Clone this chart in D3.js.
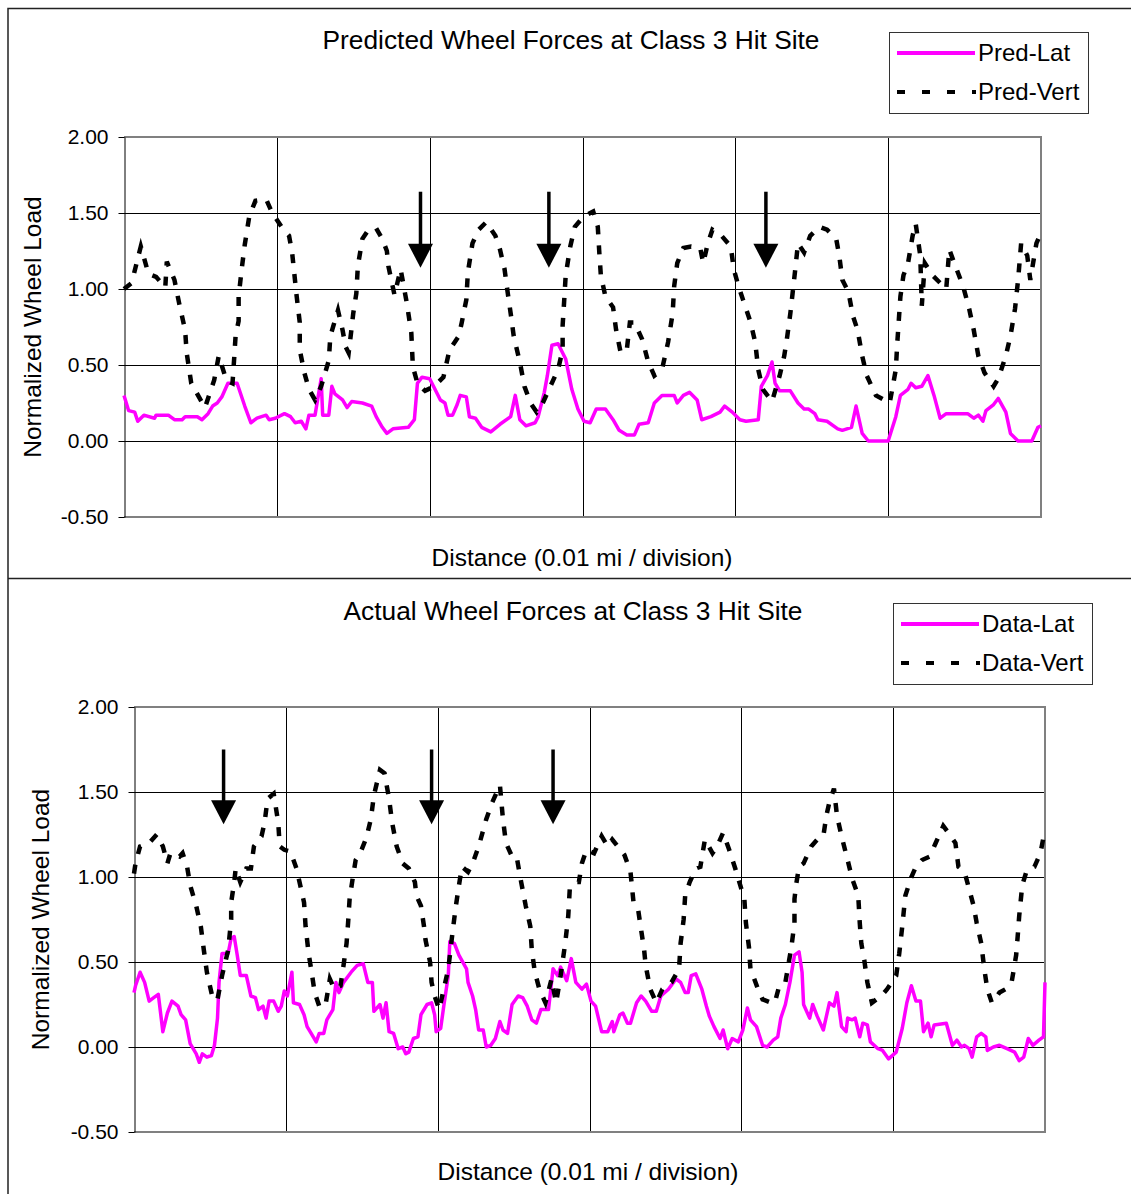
<!DOCTYPE html>
<html>
<head>
<meta charset="utf-8">
<script src="https://cdn.jsdelivr.net/npm/d3@7"></script>
<style>
  body { margin: 0; background: #fff; }
  text { font-family: "Liberation Sans", Arial, sans-serif; fill: #000; }
</style>
</head>
<body>
<div id="chart"></div>
<script>
// y axis ticks and x divisions (0.01 mi each)
var yTicks = [-0.5, 0, 0.5, 1, 1.5, 2];
var divisions = [0, 1, 2, 3, 4, 5, 6];

// [distance in divisions, normalized wheel load]
var predLat = [[0,0.30],[0.03,0.20],[0.07,0.19],[0.09,0.13],[0.13,0.17],[0.20,0.15],[0.21,0.17],[0.29,0.17],[0.33,0.14],[0.38,0.14],[0.40,0.16],[0.48,0.16],[0.51,0.14],[0.55,0.18],[0.58,0.23],[0.61,0.25],[0.64,0.29],[0.68,0.38],[0.70,0.38],[0.74,0.38],[0.79,0.23],[0.83,0.12],[0.87,0.15],[0.93,0.17],[0.95,0.14],[0.99,0.15],[1.05,0.18],[1.09,0.16],[1.12,0.12],[1.16,0.13],[1.19,0.08],[1.21,0.17],[1.25,0.17],[1.29,0.41],[1.30,0.17],[1.34,0.17],[1.36,0.36],[1.38,0.31],[1.43,0.27],[1.46,0.22],[1.49,0.26],[1.56,0.25],[1.62,0.23],[1.65,0.16],[1.69,0.09],[1.72,0.05],[1.76,0.08],[1.86,0.09],[1.90,0.14],[1.92,0.38],[1.95,0.42],[2.00,0.41],[2.03,0.35],[2.07,0.27],[2.10,0.25],[2.12,0.17],[2.15,0.17],[2.18,0.24],[2.20,0.30],[2.24,0.29],[2.26,0.16],[2.30,0.15],[2.34,0.09],[2.40,0.06],[2.46,0.11],[2.53,0.16],[2.56,0.30],[2.59,0.14],[2.63,0.10],[2.69,0.12],[2.71,0.16],[2.75,0.32],[2.77,0.43],[2.80,0.63],[2.84,0.64],[2.89,0.54],[2.93,0.34],[2.97,0.21],[3.01,0.13],[3.05,0.12],[3.09,0.21],[3.15,0.21],[3.20,0.14],[3.24,0.07],[3.29,0.04],[3.34,0.04],[3.37,0.11],[3.43,0.12],[3.47,0.25],[3.52,0.30],[3.56,0.30],[3.60,0.30],[3.62,0.25],[3.66,0.30],[3.70,0.32],[3.75,0.27],[3.78,0.14],[3.84,0.16],[3.90,0.19],[3.93,0.23],[3.98,0.19],[4.03,0.14],[4.07,0.13],[4.15,0.14],[4.17,0.36],[4.21,0.43],[4.24,0.52],[4.26,0.38],[4.29,0.33],[4.36,0.33],[4.41,0.25],[4.45,0.21],[4.48,0.21],[4.52,0.18],[4.54,0.14],[4.60,0.13],[4.67,0.08],[4.70,0.07],[4.76,0.09],[4.79,0.23],[4.83,0.05],[4.87,0.00],[5.00,0.00],[5.05,0.16],[5.08,0.30],[5.13,0.34],[5.15,0.38],[5.18,0.35],[5.22,0.36],[5.26,0.43],[5.30,0.30],[5.34,0.15],[5.38,0.18],[5.52,0.18],[5.56,0.15],[5.59,0.17],[5.62,0.13],[5.64,0.20],[5.69,0.24],[5.72,0.28],[5.77,0.19],[5.80,0.05],[5.85,0.00],[5.94,0.00],[5.98,0.09],[6.00,0.10]];

var predVert = [[0,1.00],[0.05,1.04],[0.11,1.28],[0.16,1.10],[0.21,1.08],[0.27,1.01],[0.28,1.18],[0.33,1.06],[0.36,0.91],[0.40,0.73],[0.41,0.58],[0.44,0.38],[0.49,0.29],[0.53,0.22],[0.59,0.40],[0.62,0.56],[0.67,0.40],[0.71,0.38],[0.72,0.53],[0.73,0.69],[0.75,0.79],[0.75,0.95],[0.77,1.13],[0.79,1.29],[0.82,1.48],[0.86,1.58],[0.93,1.59],[0.97,1.50],[1.03,1.41],[1.08,1.35],[1.10,1.24],[1.13,0.95],[1.15,0.78],[1.15,0.60],[1.18,0.45],[1.21,0.34],[1.25,0.27],[1.29,0.36],[1.34,0.53],[1.35,0.69],[1.40,0.86],[1.43,0.73],[1.45,0.62],[1.47,0.58],[1.49,0.75],[1.50,0.84],[1.52,0.97],[1.53,1.15],[1.56,1.33],[1.60,1.39],[1.65,1.40],[1.69,1.33],[1.72,1.25],[1.73,1.15],[1.77,0.96],[1.81,1.13],[1.85,0.91],[1.88,0.71],[1.89,0.49],[1.92,0.38],[1.97,0.33],[2.03,0.36],[2.09,0.42],[2.13,0.60],[2.19,0.69],[2.21,0.78],[2.24,0.93],[2.25,1.11],[2.28,1.30],[2.32,1.39],[2.37,1.44],[2.43,1.35],[2.46,1.26],[2.49,1.13],[2.51,0.98],[2.53,0.84],[2.55,0.69],[2.59,0.52],[2.62,0.36],[2.66,0.25],[2.70,0.19],[2.74,0.25],[2.79,0.36],[2.84,0.47],[2.87,0.60],[2.87,0.76],[2.88,0.92],[2.89,1.09],[2.92,1.28],[2.95,1.41],[3.01,1.48],[3.07,1.51],[3.10,1.41],[3.11,1.24],[3.12,1.09],[3.15,0.95],[3.20,0.88],[3.22,0.73],[3.25,0.58],[3.29,0.60],[3.31,0.78],[3.34,0.78],[3.39,0.67],[3.43,0.52],[3.47,0.43],[3.52,0.47],[3.56,0.65],[3.59,0.84],[3.60,1.02],[3.62,1.17],[3.66,1.27],[3.71,1.28],[3.77,1.27],[3.79,1.17],[3.82,1.30],[3.85,1.39],[3.91,1.35],[3.97,1.28],[3.99,1.13],[4.02,1.02],[4.05,0.93],[4.10,0.78],[4.13,0.65],[4.15,0.47],[4.18,0.34],[4.24,0.26],[4.29,0.43],[4.32,0.56],[4.34,0.69],[4.36,0.84],[4.37,0.93],[4.39,1.11],[4.41,1.30],[4.45,1.24],[4.49,1.35],[4.55,1.41],[4.60,1.39],[4.66,1.33],[4.68,1.22],[4.70,1.06],[4.74,0.98],[4.77,0.82],[4.80,0.73],[4.83,0.56],[4.86,0.43],[4.92,0.30],[5.01,0.25],[5.05,0.47],[5.06,0.65],[5.07,0.80],[5.08,0.95],[5.10,1.09],[5.13,1.17],[5.16,1.35],[5.18,1.43],[5.21,1.22],[5.22,0.89],[5.24,1.17],[5.29,1.09],[5.38,1.00],[5.40,1.26],[5.44,1.15],[5.49,1.02],[5.53,0.87],[5.56,0.73],[5.59,0.56],[5.63,0.45],[5.69,0.36],[5.72,0.41],[5.77,0.56],[5.80,0.69],[5.83,0.87],[5.85,1.06],[5.87,1.30],[5.91,1.22],[5.93,1.06],[5.97,1.30],[6.00,1.37]];

var dataLat = [[0,0.32],[0.01,0.36],[0.04,0.44],[0.07,0.38],[0.10,0.27],[0.13,0.29],[0.16,0.31],[0.19,0.09],[0.22,0.20],[0.25,0.27],[0.29,0.24],[0.31,0.19],[0.34,0.16],[0.37,0.02],[0.41,-0.04],[0.43,-0.09],[0.45,-0.04],[0.48,-0.06],[0.51,-0.05],[0.53,0.01],[0.55,0.17],[0.56,0.38],[0.58,0.55],[0.62,0.55],[0.64,0.64],[0.66,0.65],[0.68,0.54],[0.70,0.42],[0.74,0.42],[0.77,0.30],[0.80,0.29],[0.82,0.22],[0.85,0.24],[0.87,0.17],[0.89,0.27],[0.92,0.27],[0.95,0.21],[0.97,0.24],[0.99,0.33],[1.01,0.30],[1.04,0.44],[1.05,0.26],[1.09,0.25],[1.12,0.19],[1.14,0.12],[1.16,0.09],[1.20,0.03],[1.22,0.08],[1.25,0.08],[1.27,0.16],[1.31,0.22],[1.33,0.38],[1.35,0.32],[1.38,0.38],[1.43,0.44],[1.47,0.48],[1.51,0.49],[1.54,0.38],[1.57,0.38],[1.58,0.21],[1.62,0.25],[1.64,0.17],[1.66,0.26],[1.68,0.09],[1.71,0.08],[1.74,-0.01],[1.77,0.00],[1.79,-0.04],[1.81,-0.03],[1.84,0.05],[1.87,0.06],[1.89,0.19],[1.93,0.25],[1.96,0.26],[1.98,0.19],[1.99,0.09],[2.02,0.11],[2.04,0.24],[2.07,0.42],[2.08,0.62],[2.11,0.61],[2.14,0.54],[2.19,0.46],[2.20,0.38],[2.23,0.30],[2.25,0.22],[2.27,0.10],[2.30,0.10],[2.32,0.00],[2.35,0.01],[2.38,0.05],[2.41,0.15],[2.43,0.10],[2.46,0.08],[2.49,0.25],[2.53,0.30],[2.56,0.29],[2.59,0.24],[2.62,0.16],[2.65,0.14],[2.68,0.22],[2.73,0.22],[2.76,0.46],[2.79,0.42],[2.81,0.47],[2.85,0.39],[2.88,0.52],[2.91,0.38],[2.95,0.34],[2.98,0.37],[3.01,0.27],[3.04,0.24],[3.08,0.09],[3.12,0.09],[3.15,0.15],[3.16,0.09],[3.20,0.19],[3.22,0.20],[3.25,0.14],[3.27,0.14],[3.31,0.26],[3.34,0.30],[3.37,0.27],[3.41,0.21],[3.44,0.21],[3.47,0.30],[3.52,0.34],[3.57,0.40],[3.60,0.38],[3.63,0.32],[3.65,0.32],[3.67,0.42],[3.70,0.43],[3.74,0.34],[3.77,0.24],[3.79,0.18],[3.82,0.12],[3.86,0.05],[3.88,0.10],[3.91,-0.01],[3.94,0.05],[3.98,0.03],[4.01,0.10],[4.04,0.23],[4.06,0.16],[4.10,0.12],[4.14,0.01],[4.17,0.00],[4.21,0.04],[4.24,0.06],[4.26,0.17],[4.29,0.25],[4.32,0.38],[4.35,0.54],[4.38,0.56],[4.40,0.44],[4.41,0.25],[4.45,0.17],[4.47,0.25],[4.50,0.18],[4.54,0.10],[4.58,0.26],[4.61,0.24],[4.63,0.32],[4.66,0.12],[4.69,0.09],[4.70,0.17],[4.73,0.16],[4.75,0.17],[4.78,0.06],[4.80,0.14],[4.83,0.13],[4.85,0.03],[4.90,-0.01],[4.93,-0.02],[4.97,-0.07],[5.02,-0.03],[5.06,0.11],[5.09,0.26],[5.12,0.36],[5.15,0.27],[5.18,0.27],[5.20,0.09],[5.23,0.14],[5.25,0.06],[5.27,0.13],[5.35,0.14],[5.39,0.01],[5.42,0.04],[5.45,0.00],[5.47,0.01],[5.50,-0.01],[5.52,-0.06],[5.55,0.06],[5.58,0.08],[5.61,0.06],[5.62,-0.02],[5.66,0.00],[5.70,0.01],[5.75,-0.01],[5.80,-0.03],[5.83,-0.08],[5.86,-0.06],[5.89,0.05],[5.92,0.01],[5.96,0.04],[5.99,0.06],[6.00,0.38]];

var dataVert = [[0,1.02],[0.01,1.08],[0.04,1.18],[0.10,1.20],[0.15,1.25],[0.19,1.18],[0.22,1.08],[0.24,1.14],[0.30,1.12],[0.32,1.14],[0.35,1.06],[0.37,0.95],[0.41,0.83],[0.44,0.71],[0.46,0.57],[0.48,0.44],[0.52,0.28],[0.55,0.28],[0.58,0.42],[0.62,0.57],[0.64,0.75],[0.64,0.85],[0.66,0.97],[0.67,1.05],[0.70,0.97],[0.74,1.05],[0.77,1.05],[0.79,1.18],[0.84,1.24],[0.86,1.32],[0.88,1.46],[0.92,1.49],[0.95,1.32],[0.96,1.18],[0.99,1.16],[1.03,1.15],[1.07,1.05],[1.09,0.97],[1.12,0.85],[1.13,0.71],[1.15,0.55],[1.17,0.44],[1.19,0.32],[1.22,0.24],[1.26,0.24],[1.29,0.40],[1.32,0.34],[1.36,0.36],[1.38,0.48],[1.40,0.61],[1.41,0.73],[1.42,0.87],[1.44,0.99],[1.46,1.10],[1.49,1.14],[1.53,1.23],[1.56,1.34],[1.58,1.48],[1.62,1.63],[1.65,1.61],[1.68,1.46],[1.70,1.32],[1.73,1.18],[1.77,1.08],[1.81,1.05],[1.85,0.97],[1.86,0.89],[1.89,0.83],[1.91,0.71],[1.92,0.63],[1.95,0.50],[1.96,0.38],[1.98,0.30],[2.01,0.22],[2.04,0.34],[2.07,0.46],[2.10,0.69],[2.12,0.83],[2.14,0.95],[2.16,1.06],[2.20,1.03],[2.23,1.08],[2.27,1.18],[2.32,1.34],[2.36,1.44],[2.41,1.54],[2.43,1.34],[2.45,1.20],[2.49,1.12],[2.52,1.12],[2.55,0.97],[2.58,0.83],[2.61,0.71],[2.62,0.57],[2.64,0.44],[2.67,0.34],[2.71,0.26],[2.75,0.40],[2.78,0.26],[2.81,0.42],[2.84,0.61],[2.86,0.77],[2.87,0.93],[2.91,0.97],[2.93,0.97],[2.95,1.08],[2.98,1.16],[3.03,1.14],[3.08,1.24],[3.12,1.18],[3.15,1.22],[3.23,1.13],[3.27,1.03],[3.29,0.85],[3.32,0.81],[3.34,0.69],[3.36,0.57],[3.37,0.48],[3.40,0.34],[3.44,0.26],[3.48,0.34],[3.54,0.38],[3.59,0.46],[3.60,0.61],[3.62,0.75],[3.63,0.89],[3.66,0.97],[3.70,1.05],[3.73,1.06],[3.76,1.22],[3.81,1.14],[3.84,1.18],[3.88,1.26],[3.92,1.16],[3.96,1.05],[4.00,0.93],[4.02,0.87],[4.03,0.73],[4.05,0.59],[4.06,0.46],[4.11,0.34],[4.14,0.28],[4.20,0.26],[4.22,0.26],[4.25,0.36],[4.29,0.38],[4.33,0.59],[4.35,0.73],[4.35,0.87],[4.36,0.95],[4.38,1.06],[4.41,1.08],[4.46,1.18],[4.50,1.22],[4.54,1.24],[4.56,1.36],[4.58,1.44],[4.61,1.52],[4.63,1.36],[4.66,1.24],[4.70,1.10],[4.73,0.99],[4.77,0.89],[4.78,0.73],[4.79,0.61],[4.81,0.51],[4.83,0.38],[4.86,0.26],[4.92,0.30],[4.96,0.34],[5.02,0.42],[5.04,0.55],[5.06,0.71],[5.08,0.89],[5.12,1.00],[5.15,1.06],[5.19,1.10],[5.24,1.12],[5.28,1.20],[5.33,1.30],[5.38,1.24],[5.41,1.20],[5.43,1.06],[5.47,1.03],[5.50,0.93],[5.53,0.83],[5.55,0.73],[5.58,0.61],[5.60,0.46],[5.62,0.34],[5.65,0.26],[5.70,0.32],[5.74,0.34],[5.78,0.38],[5.81,0.54],[5.82,0.65],[5.83,0.77],[5.85,0.95],[5.88,1.04],[5.93,1.06],[5.97,1.14],[6.00,1.28]];

// hit-site markers: x position in divisions, arrow from tail load to tip load
var predArrows = [1.94, 2.78, 4.20];
var predArrowSpan = [1.64, 1.14];
var dataArrows = [0.59, 1.96, 2.76];
var dataArrowSpan = [1.75, 1.31];

var svg = d3.select("#chart").append("svg")
    .attr("width", 1131)
    .attr("height", 1194);

// outer frame of the two stacked charts
svg.append("path")
    .attr("d", "M8,1194 V8.5 H1131 M8,578.5 H1131")
    .style("fill", "none")
    .style("stroke", "#222")
    .style("stroke-width", "1.5px");

function panel(cfg) {
  var g = svg.append("g");
  var x = d3.scaleLinear().domain([0, 6]).range([cfg.left, cfg.right]);
  var y = d3.scaleLinear().domain([-0.5, 2]).range([cfg.bottom, cfg.top]);

  // grid
  g.selectAll(".hgrid")
      .data(yTicks.filter(function(d) { return d > -0.5 && d < 2; }))
    .enter().append("line")
      .attr("x1", cfg.left).attr("x2", cfg.right)
      .attr("y1", function(d) { return Math.round(y(d)) + 0.5; })
      .attr("y2", function(d) { return Math.round(y(d)) + 0.5; })
      .style("stroke", "#000");

  g.selectAll(".vgrid")
      .data(divisions.filter(function(d) { return d > 0 && d < 6; }))
    .enter().append("line")
      .attr("x1", function(d) { return Math.round(x(d)) + 0.5; })
      .attr("x2", function(d) { return Math.round(x(d)) + 0.5; })
      .attr("y1", cfg.top).attr("y2", cfg.bottom)
      .style("stroke", "#000");

  // grey plot-area border (top, right, bottom)
  g.append("path")
      .attr("d", "M" + cfg.left + "," + y(2) + " H" + x(6) + " V" + y(-0.5) + " H" + cfg.left)
      .style("fill", "none")
      .style("stroke", "#808080")
      .style("stroke-width", "2px");

  var axis = g.append("g")
      .attr("transform", "translate(" + (cfg.left + 0.5) + ",0)")
      .call(d3.axisLeft(y)
        .tickValues(yTicks)
        .tickSize(6)
        .tickSizeOuter(0)
        .tickPadding(10)
        .tickFormat(function(d) { return d.toFixed(2); }));
  axis.selectAll("path, line").style("stroke", "#000");
  axis.selectAll("text")
      .style("font-size", "21px")
      .style("font-family", "'Liberation Sans', Arial, sans-serif")
      .style("fill", "#000");

  var line = d3.line()
      .x(function(d) { return x(d[0]); })
      .y(function(d) { return y(d[1]); });

  g.append("path")
      .datum(cfg.lat)
      .attr("d", line)
      .style("fill", "none")
      .style("stroke", "#ff00ff")
      .style("stroke-width", "3.5px")
      .style("stroke-linejoin", "round");

  g.append("path")
      .datum(cfg.vert)
      .attr("d", line)
      .style("fill", "none")
      .style("stroke", "#000")
      .style("stroke-width", "4.5px")
      .style("stroke-dasharray", "9,11");

  // arrows marking hits
  var arrows = g.selectAll(".arrow").data(cfg.arrows).enter().append("g");
  arrows.append("line")
      .attr("x1", function(d) { return x(d); })
      .attr("x2", function(d) { return x(d); })
      .attr("y1", y(cfg.span[0]))
      .attr("y2", y(cfg.span[1]) - 20)
      .style("stroke", "#000")
      .style("stroke-width", "3.5px");
  arrows.append("path")
      .attr("d", function(d) {
        var tx = x(d), ty = y(cfg.span[1]);
        return "M" + tx + "," + ty + " L" + (tx - 12.5) + "," + (ty - 24) + " L" + (tx + 12.5) + "," + (ty - 24) + " Z";
      })
      .style("fill", "#000");

  // titles
  g.append("text")
      .attr("x", cfg.titleX).attr("y", cfg.titleY)
      .attr("text-anchor", "middle")
      .style("font-size", "26.3px")
      .text(cfg.title);

  g.append("text")
      .attr("x", cfg.xLabelX).attr("y", cfg.xLabelY)
      .attr("text-anchor", "middle")
      .style("font-size", "24.5px")
      .text("Distance (0.01 mi / division)");

  g.append("text")
      .attr("transform", "translate(" + cfg.yLabelX + "," + (cfg.top + cfg.bottom) / 2 + ") rotate(-90)")
      .attr("text-anchor", "middle")
      .attr("dy", "0.35em")
      .style("font-size", "24.5px")
      .text("Normalized Wheel Load");

  // legend
  var lg = g.append("g").attr("transform", "translate(" + cfg.legend[0] + "," + cfg.legend[1] + ")");
  lg.append("rect")
      .attr("x", 0.5).attr("y", 0.5)
      .attr("width", 199).attr("height", 81)
      .style("fill", "#fff")
      .style("stroke", "#333");
  lg.append("line")
      .attr("x1", 8).attr("x2", 86).attr("y1", 21).attr("y2", 21)
      .style("stroke", "#ff00ff").style("stroke-width", "4px");
  lg.append("line")
      .attr("x1", 8).attr("x2", 87).attr("y1", 60).attr("y2", 60)
      .style("stroke", "#000").style("stroke-width", "4px")
      .style("stroke-dasharray", "8,17");
  lg.selectAll(".lbl").data(cfg.names).enter().append("text")
      .attr("x", 89)
      .attr("y", function(d, i) { return 21 + i * 39; })
      .attr("dy", "0.35em")
      .style("font-size", "24px")
      .text(function(d) { return d; });
}

panel({
  left: 124, right: 1041, top: 137, bottom: 517,
  title: "Predicted Wheel Forces at Class 3 Hit Site", titleX: 571, titleY: 49,
  xLabelX: 582, xLabelY: 566, yLabelX: 32,
  legend: [889, 32], names: ["Pred-Lat", "Pred-Vert"],
  lat: predLat, vert: predVert, arrows: predArrows, span: predArrowSpan
});

panel({
  left: 134, right: 1045, top: 707, bottom: 1132,
  title: "Actual Wheel Forces at Class 3 Hit Site", titleX: 573, titleY: 620,
  xLabelX: 588, xLabelY: 1180, yLabelX: 40,
  legend: [893, 603], names: ["Data-Lat", "Data-Vert"],
  lat: dataLat, vert: dataVert, arrows: dataArrows, span: dataArrowSpan
});
</script>
</body>
</html>
